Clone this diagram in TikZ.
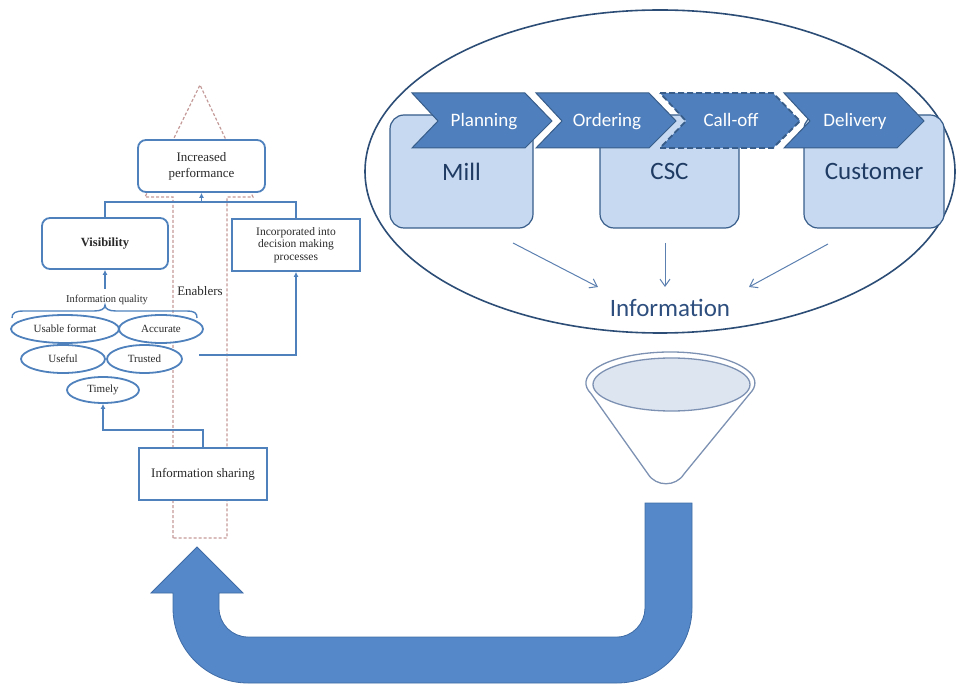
\documentclass[tikz,border=0pt]{standalone}
\usepackage{fontspec}
\setmainfont{Liberation Serif}
\newfontfamily\calib{Carlito}
\usetikzlibrary{arrows.meta,shapes.geometric,calc}

\definecolor{lblue}{HTML}{4F81BD}
\definecolor{dkblue}{HTML}{385D8A}
\definecolor{chev}{HTML}{4F7FBC}
\definecolor{boxfill}{HTML}{C6D9F0}
\definecolor{txtblue}{HTML}{1F3B63}
\definecolor{infoc}{HTML}{2E4F7E}
\definecolor{enab}{HTML}{C49A98}
\definecolor{uarrow}{HTML}{5588C8}
\definecolor{uedge}{HTML}{3F6CA6}
\definecolor{funnel}{HTML}{7D92B3}
\definecolor{funfill}{HTML}{DDE5F1}
\definecolor{ringc}{HTML}{2C4D75}
\definecolor{thinarr}{HTML}{5C80B0}
\definecolor{ltext}{HTML}{2A2A2A}

\tikzset{
  lbox/.style={draw=lblue, line width=1.8pt, fill=white, align=center,
    inner sep=0pt, text=ltext, font=\fontsize{13}{16}\selectfont},
  conn/.style={draw=lblue, line width=1.8pt},
  ctip/.style={-{Latex[length=5pt,width=5pt]}},
  qual/.style={ellipse, draw=lblue, line width=1.8pt, inner sep=0pt,
    minimum height=28pt, text=ltext, font=\fontsize{11}{13}\selectfont},
  enabline/.style={draw=enab, line width=1.2pt, dash pattern=on 3pt off 2pt},
  rbox/.style={draw=dkblue, line width=1.2pt, fill=boxfill, rounded corners=14pt,
    minimum height=113pt, inner sep=0pt, text=txtblue,
    font=\calib\fontsize{25}{30}\selectfont},
  chevshape/.style={fill=chev, draw=dkblue, line width=1pt},
  chevtext/.style={text=white, font=\calib\fontsize{19}{23}\selectfont,
    inner sep=0pt, anchor=base},
  infoarrow/.style={draw=thinarr, line width=1pt, -{Straight Barb[length=7pt,width=10pt]}},
}

\begin{document}
\begin{tikzpicture}[x=1pt,y=-1pt]
\useasboundingbox (0,0) rectangle (956,684);

% ---------------- enablers (dashed upward arrow) ----------------
\draw[enabline] (173,538) -- (173,197) -- (145,197) -- (200,85)
  -- (253,197) -- (227,197) -- (227,538) -- cycle;
\node[text=ltext, font=\fontsize{13}{16}\selectfont, inner sep=1pt] (enablers) at (200,291) {Enablers};

% ---------------- left framework boxes ----------------
\node[lbox, rounded corners=8pt, minimum width=127pt, minimum height=52pt] (perf)
  at (201.5,166) {Increased\\performance};
\node[lbox, rounded corners=8pt, minimum width=126pt, minimum height=51pt,
  font=\bfseries\fontsize{12.5}{15}\selectfont] (vis) at (105,243.5) {Visibility};
\node[lbox, minimum width=128pt, minimum height=52pt,
  font=\fontsize{11.5}{12.5}\selectfont] (inc) at (296,245)
  {Incorporated into\\decision making\\processes};
\node[lbox, minimum width=128pt, minimum height=52pt] (share) at (203,474)
  {Information sharing};

% information quality attributes
\fill[white] (65,329) ellipse [x radius=54pt, y radius=14pt];
\fill[white] (161,329) ellipse [x radius=42pt, y radius=14pt];
\fill[white] (63,359) ellipse [x radius=42pt, y radius=14pt];
\fill[white] (144.5,359) ellipse [x radius=37.5pt, y radius=14pt];
\fill[white] (103,390) ellipse [x radius=36pt, y radius=13pt];
\node[qual, minimum width=108pt] (usable) at (65,329) {Usable format};
\node[qual, minimum width=84pt] (accurate) at (161,329) {Accurate};
\node[qual, minimum width=84pt] (useful) at (63,359) {Useful};
\node[qual, minimum width=75pt] (trusted) at (144.5,359) {Trusted};
\node[qual, minimum width=72pt, minimum height=26pt] (timely) at (103,390) {Timely};

\node[text=ltext, font=\fontsize{10.5}{12}\selectfont, inner sep=0pt] (iq)
  at (107,300) {Information quality};
\draw[draw=lblue, line width=1.4pt]
  (12,318) .. controls (12,313) and (15,311) .. (24,311) -- (94,311)
  .. controls (101,311) and (105,309) .. (105,305)
  .. controls (105,309) and (109,311) .. (116,311) -- (186,311)
  .. controls (195,311) and (197,313) .. (197,318);

% ---------------- left connectors ----------------
\draw[conn] (vis.north) -- ++(0,-15) coordinate (bus) -| (inc.north);
\draw[conn, ctip] (perf.south |- bus) -- (perf.south);
\draw[conn, ctip] (vis.south |- 0,289) -- (vis.south);
\draw[conn, ctip] (share.north) -- ++(0,-17) -| (timely.south);
\coordinate (trustout) at (199,355);
\draw[conn, ctip] (trustout) -| (inc.south);

% ---------------- supply chain ring ----------------
\draw[draw=ringc, line width=1.6pt] (660,171.5) ellipse [x radius=295pt, y radius=161.5pt];

\node[rbox, minimum width=143pt] (mill) at (461.5,171.5) {Mill};
\node[rbox, minimum width=139pt] (csc) at (669.5,171.5) {CSC\hspace{12pt}};
\node[rbox, minimum width=140pt] (customer) at (874,171.5) {Customer};

% process chevrons
\draw[chevshape] (412,93) -- ++(113,0) -- ++(27,28) -- ++(-27,27) -- ++(-113,0) -- ++(26,-27) -- cycle;
\draw[chevshape] (536,93) -- ++(113,0) -- ++(27,28) -- ++(-27,27) -- ++(-113,0) -- ++(26,-27) -- cycle;
\draw[chevshape, line width=1.8pt, dash pattern=on 6pt off 3pt]
  (660,93) -- ++(113,0) -- ++(27,28) -- ++(-27,27) -- ++(-113,0) -- ++(26,-27) -- cycle;
\draw[chevshape] (784,93) -- ++(113,0) -- ++(27,28) -- ++(-27,27) -- ++(-113,0) -- ++(26,-27) -- cycle;
\node[chevtext] (planning) at (484,127) {Planning};
\node[chevtext] (ordering) at (607,127) {Ordering};
\node[chevtext] (calloff) at (731,127) {Call-off};
\node[chevtext] (delivery) at (855,127) {Delivery};

\node[text=infoc, font=\calib\fontsize{25}{30}\selectfont, inner sep=0pt] (info)
  at (670,308) {Information};
\coordinate (fromMill) at (513,243);
\coordinate (toMill) at (598,287);
\coordinate (fromCSC) at (665,243);
\coordinate (toCSC) at (665,287);
\coordinate (fromCust) at (828,244);
\coordinate (toCust) at (749,287);
\draw[infoarrow] (fromMill) -- (toMill);
\draw[infoarrow] (fromCSC) -- (toCSC);
\draw[infoarrow] (fromCust) -- (toCust);

% ---------------- funnel ----------------
\draw[draw=funnel, line width=1.3pt, fill=white]
  (591,393.6) arc [start angle=200, end angle=-20, x radius=84.5pt, y radius=31pt]
  -- (684,474) .. controls (676,487) and (656,487) .. (648,474) -- cycle;
\draw[draw=funnel, line width=1.3pt, fill=funfill]
  (671.5,384.5) ellipse [x radius=78.5pt, y radius=26.5pt];

% ---------------- feedback U-turn arrow ----------------
\draw[fill=uarrow, draw=uedge, line width=0.8pt]
  (645,503) -- (692,503) -- (692,608)
  .. controls (692,649.4) and (658.4,683) .. (617,683)
  -- (248,683)
  .. controls (206.6,683) and (173,649.4) .. (173,608)
  -- (173,593) -- (151,593) -- (197,547) -- (243,593) -- (219,593) -- (219,608)
  .. controls (219,624) and (232,637) .. (248,637)
  -- (617,637)
  .. controls (632.5,637) and (645,623.5) .. (645,608)
  -- cycle;

\end{tikzpicture}
\end{document}
